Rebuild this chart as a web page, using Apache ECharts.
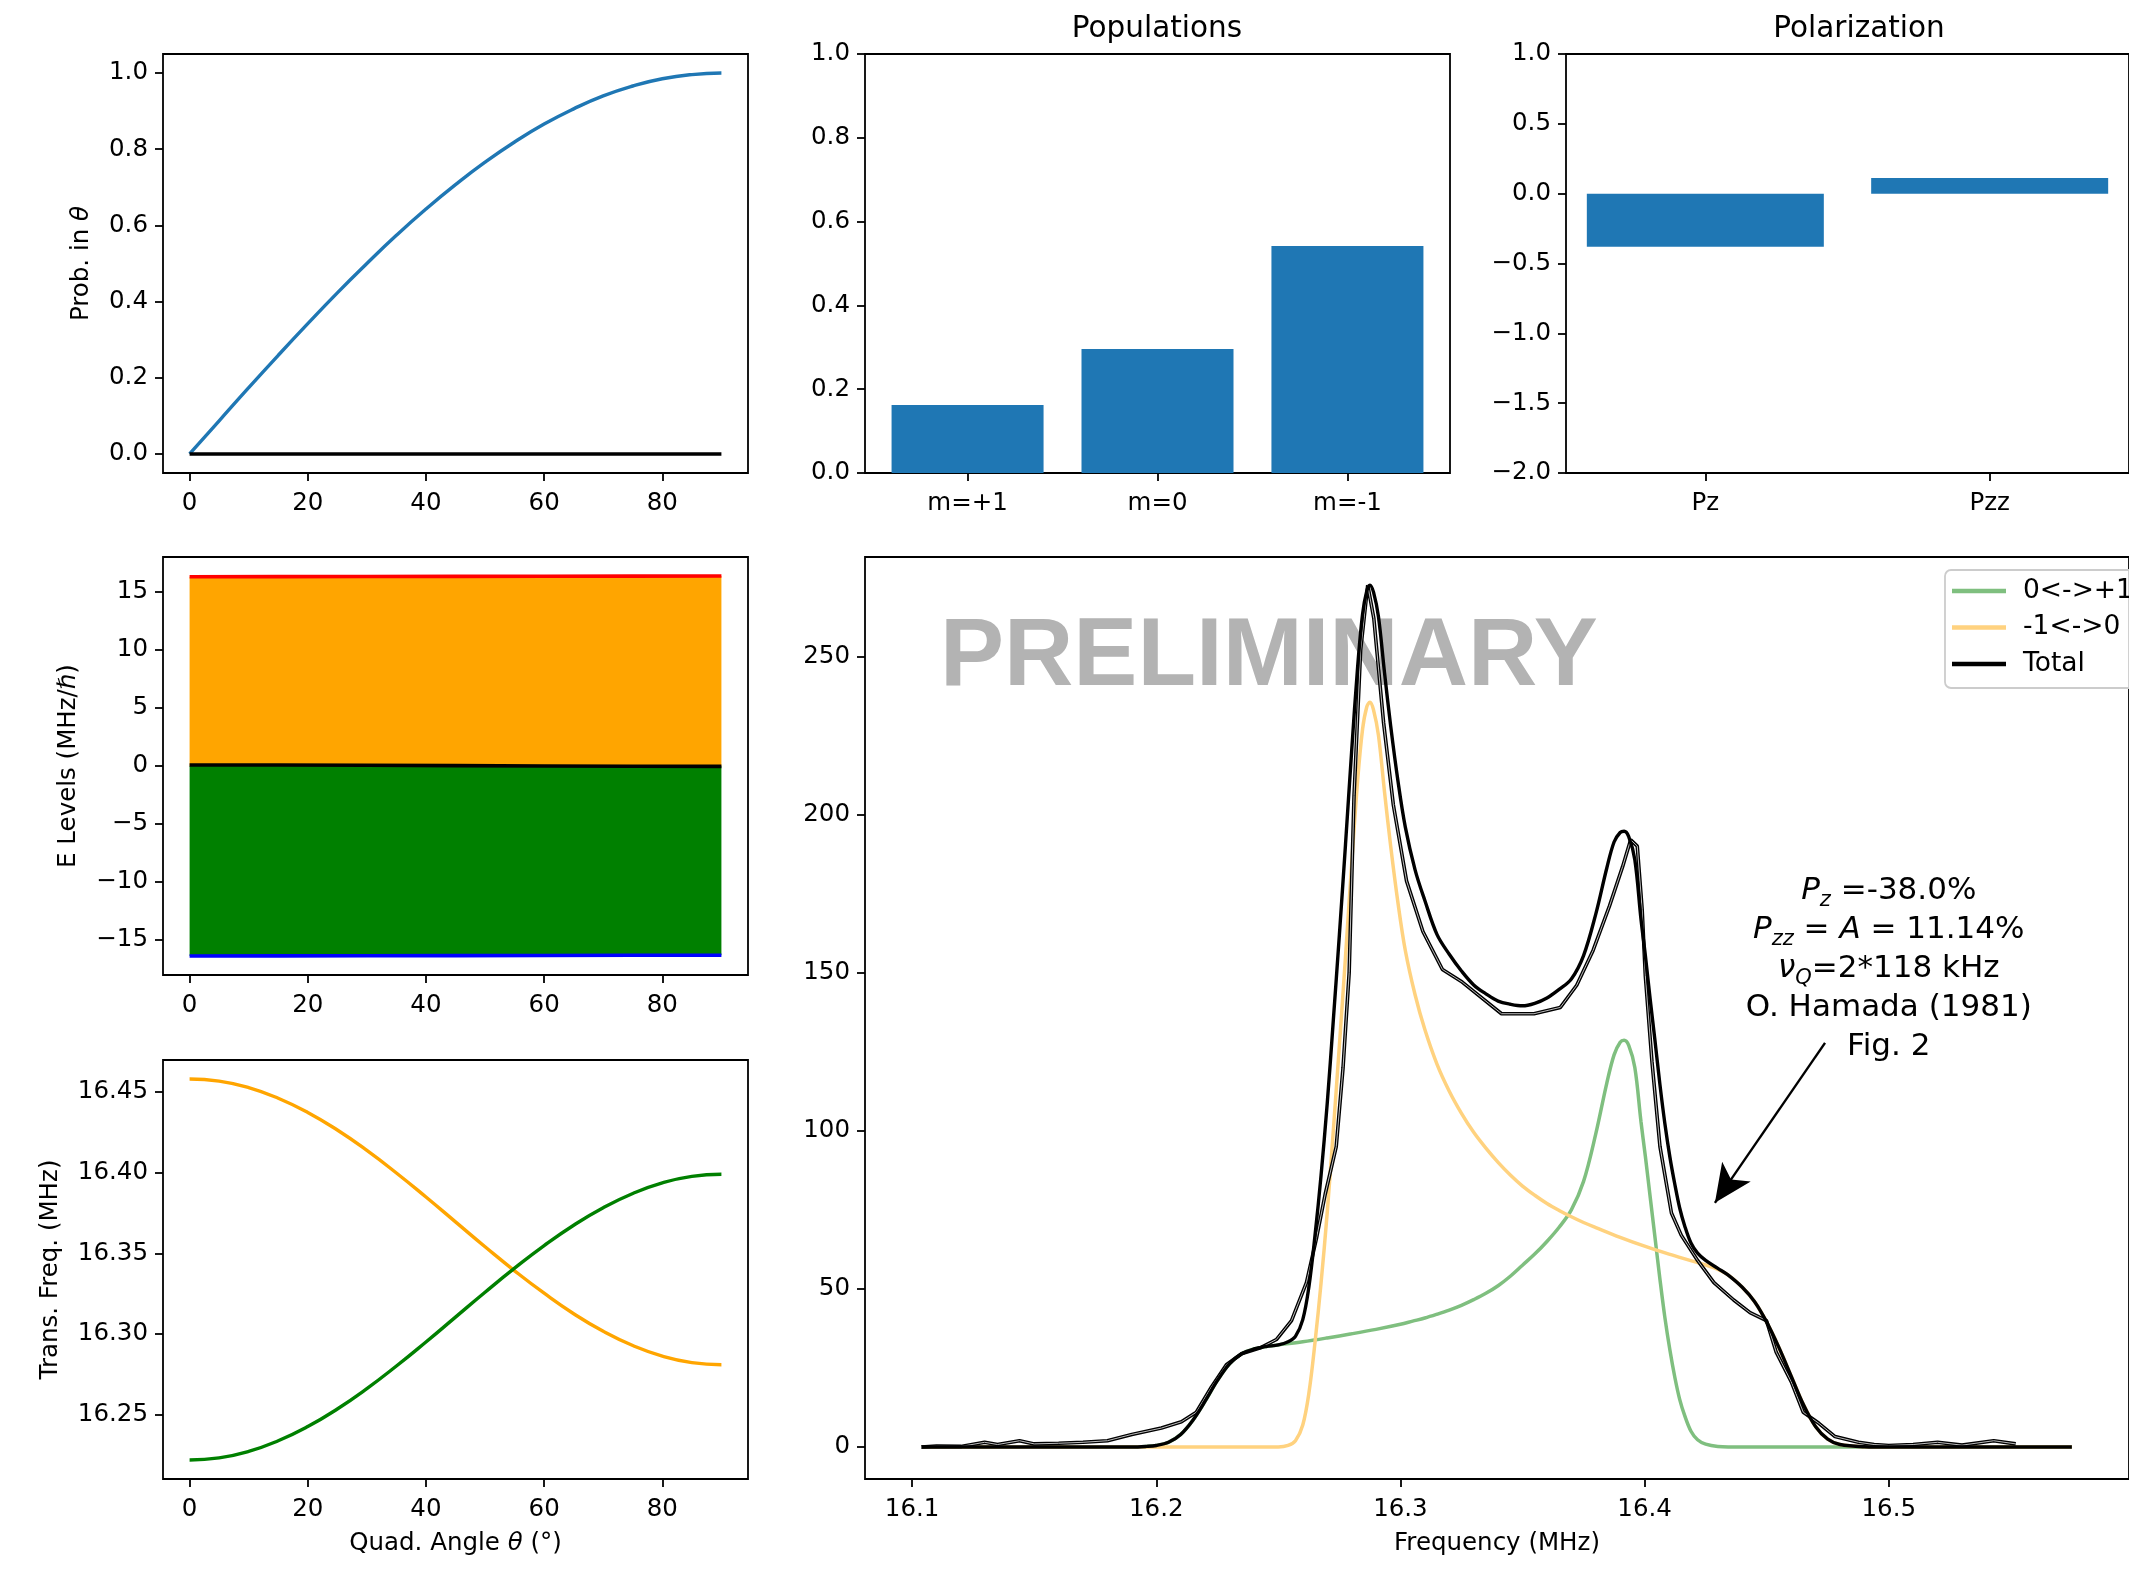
<!DOCTYPE html>
<html>
<head>
<meta charset="utf-8">
<script src="https://cdn.jsdelivr.net/npm/echarts@6/dist/echarts.min.js"></script>
<style>
  html, body { margin: 0; padding: 0; background: #fff; }
  #chart { width: 2129px; height: 1569px; }
</style>
</head>
<body>
<div id="chart"></div>
<script>
// ---- data ----
const THETA = [0, 5, 10, 15, 20, 25, 30, 35, 40, 45, 50, 55, 60, 65, 70, 75, 80, 85, 90]
const PROB_THETA = [0, 0.087, 0.174, 0.259, 0.342, 0.423, 0.5, 0.574, 0.643, 0.707, 0.766, 0.819, 0.866, 0.906, 0.94, 0.966, 0.985, 0.996, 1.0]
const PROB_OTHER = [0, 0, 0, 0, 0, 0, 0, 0, 0, 0, 0, 0, 0, 0, 0, 0, 0, 0, 0]

const POP_CATS = ['m=+1', 'm=0', 'm=-1']
const POP_VALUES = [0.162, 0.296, 0.542]
const POL_CATS = ['Pz', 'Pzz']
const POL_VALUES = [-0.38, 0.1114]

const THETA_E = [0, 15, 30, 45, 60, 75, 90]
const E_PLUS = [16.301, 16.305, 16.315, 16.33, 16.345, 16.356, 16.36]
const E_ZERO = [0.079, 0.071, 0.049, 0.02, -0.01, -0.032, -0.039]
const E_MINUS = [-16.379, -16.375, -16.365, -16.35, -16.335, -16.324, -16.32]

const F_MINUS_ZERO = [16.458, 16.4567, 16.4527, 16.4461, 16.4373, 16.4264, 16.4138, 16.3998, 16.3849, 16.3695, 16.3541, 16.3392, 16.3253, 16.3126, 16.3017, 16.2929, 16.2863, 16.2823, 16.281]
const F_ZERO_PLUS = [16.222, 16.2233, 16.2273, 16.2339, 16.2427, 16.2536, 16.2662, 16.2802, 16.2951, 16.3105, 16.3259, 16.3408, 16.3548, 16.3674, 16.3783, 16.3871, 16.3937, 16.3977, 16.399]

const GREEN_FREQ = [16.104, 16.19, 16.196, 16.2, 16.205, 16.21, 16.215, 16.22, 16.225, 16.23, 16.235, 16.24, 16.245, 16.25, 16.26, 16.27, 16.28, 16.29, 16.3, 16.305, 16.31, 16.315, 16.32, 16.325, 16.33, 16.335, 16.34, 16.345, 16.35, 16.355, 16.36, 16.365, 16.37, 16.375, 16.38, 16.3845, 16.3875, 16.39, 16.3916, 16.3935, 16.396, 16.3985, 16.4003, 16.4023, 16.4043, 16.4063, 16.4083, 16.4104, 16.4124, 16.4144, 16.4164, 16.419, 16.4217, 16.425, 16.43, 16.44, 16.575]
const GREEN_VAL = [0, 0, 0.2, 0.5, 1.5, 4, 8.5, 14.5, 21, 26.3, 29.5, 31, 31.8, 32.3, 33.3, 34.5, 35.8, 37.2, 38.8, 39.8, 40.8, 42, 43.3, 44.8, 46.6, 48.6, 51, 54, 57.5, 61, 65, 69.5, 75, 84, 99, 115, 124, 128, 128.6, 127, 120, 103, 92, 79, 66, 53, 41, 30.5, 22, 15, 10, 5, 2.3, 0.9, 0.2, 0, 0]

const ORANGE_FREQ = [16.104, 16.25, 16.254, 16.257, 16.26, 16.2625, 16.265, 16.2675, 16.27, 16.2725, 16.275, 16.2775, 16.28, 16.2825, 16.2845, 16.2862, 16.2875, 16.289, 16.291, 16.2935, 16.296, 16.299, 16.302, 16.306, 16.31, 16.315, 16.32, 16.325, 16.33, 16.335, 16.34, 16.345, 16.35, 16.355, 16.36, 16.365, 16.37, 16.375, 16.38, 16.39, 16.4, 16.41, 16.42, 16.428, 16.434, 16.44, 16.445, 16.45, 16.455, 16.46, 16.465, 16.47, 16.475, 16.48, 16.49, 16.5, 16.575]
const ORANGE_VAL = [0, 0, 0.5, 2, 7, 17, 33, 52, 74, 100, 127, 155, 184, 211, 227, 234, 235.5, 233, 225, 207, 190, 172, 157, 143, 132, 121, 112.5, 105.5, 99.5, 94.5, 90, 86, 82.5, 79.6, 77, 74.8, 72.8, 71, 69.4, 66.3, 63.5, 61, 58.7, 56.8, 54.5, 50.5, 46, 39.5, 31.5, 22.5, 13.5, 6.5, 2.5, 0.8, 0.1, 0, 0]

const FIT_FREQ = [16.104, 16.15, 16.19, 16.196, 16.2, 16.205, 16.21, 16.215, 16.22, 16.225, 16.23, 16.235, 16.24, 16.245, 16.25, 16.254, 16.257, 16.26, 16.2625, 16.265, 16.2675, 16.27, 16.2725, 16.275, 16.2775, 16.28, 16.2825, 16.2845, 16.2862, 16.2875, 16.289, 16.291, 16.2935, 16.296, 16.299, 16.302, 16.306, 16.31, 16.315, 16.32, 16.325, 16.33, 16.335, 16.34, 16.345, 16.35, 16.355, 16.36, 16.365, 16.37, 16.375, 16.38, 16.3845, 16.3875, 16.39, 16.3916, 16.3935, 16.396, 16.3985, 16.4003, 16.4023, 16.4043, 16.4063, 16.4083, 16.4104, 16.4124, 16.4144, 16.4164, 16.419, 16.4217, 16.425, 16.43, 16.434, 16.44, 16.445, 16.45, 16.455, 16.46, 16.465, 16.47, 16.475, 16.48, 16.49, 16.5, 16.575]
const FIT_TOTAL = [0, 0, 0, 0.2, 0.5, 1.5, 4, 8.5, 14.5, 21, 26.3, 29.5, 31, 31.8, 32.3, 33.3, 35, 40.3, 50.6, 66.8, 86, 108.5, 134.8, 162, 190.5, 219.8, 247, 263.4, 270.6, 272.5, 270.2, 262.5, 244.7, 228, 210.5, 196, 182.5, 172.8, 162, 155.8, 150.5, 146.1, 143.3, 141, 140, 139.5, 140.3, 142, 144.7, 148, 155.4, 168.5, 183, 191.3, 194.3, 194.7, 193, 185.7, 167, 155.5, 141.5, 128.2, 114.5, 102.3, 91.5, 83, 75.5, 70, 64.5, 61.3, 59, 56.5, 54.5, 50.5, 46, 39.5, 31.5, 22.5, 13.5, 6.5, 2.5, 0.8, 0.1, 0, 0]

const DATA_FREQ = [16.1037, 16.11, 16.12, 16.1297, 16.135, 16.144, 16.15, 16.16, 16.17, 16.18, 16.19, 16.2021, 16.2103, 16.2164, 16.2226, 16.2287, 16.2349, 16.243, 16.2492, 16.2554, 16.2615, 16.2656, 16.2692, 16.2737, 16.2765, 16.279, 16.281, 16.2837, 16.2866, 16.2891, 16.2931, 16.2971, 16.3025, 16.3092, 16.3172, 16.3253, 16.3414, 16.3547, 16.3655, 16.3722, 16.3789, 16.3856, 16.391, 16.3943, 16.397, 16.399, 16.4003, 16.403, 16.4063, 16.411, 16.415, 16.4217, 16.4284, 16.4365, 16.4432, 16.4499, 16.4539, 16.4601, 16.465, 16.4714, 16.478, 16.4876, 16.494, 16.5, 16.51, 16.52, 16.53, 16.543, 16.552]
const DATA_VAL = [0, 0.3, 0.2, 1.5, 0.8, 2, 1, 1.2, 1.5, 2, 4, 6, 8, 11, 19, 26, 29.5, 31.5, 34, 40, 52, 66, 80, 95, 120, 150, 206, 252, 272.5, 262, 229, 203, 179, 163, 151, 147, 137, 137, 139, 146, 157, 171, 183.5, 192, 190, 170, 149, 122, 95, 74, 67, 59, 52, 46.5, 42.5, 40, 30, 20.6, 11, 7.5, 3.3, 1.5, 0.8, 0.5, 0.8, 1.5, 0.6, 2, 1]

// annotation anchors (data coords)
const NOTE_AT = [16.5, 151]
const ARROW_TAIL = [16.4739, 127.8]
const ARROW_HEAD = [16.4288, 77.2]

// ---- helpers ----
const FONT = 'DejaVu Sans'
const FS = 24.5
const pairs = (xs, ys) => xs.map((x, i) => [x, ys[i]])
const minus = s => String(s).replace('-', '\u2212')

function ax(extra) {
  const o = {
    type: 'value',
    axisLine: { show: false, onZero: false },
    axisTick: { show: true, length: 8, lineStyle: { color: '#000', width: 1.8 } },
    axisLabel: { color: '#000', fontSize: FS, fontFamily: FONT, margin: 15 },
    splitLine: { show: false },
    nameTextStyle: { color: '#000', fontSize: FS, fontFamily: FONT,
      rich: { i: { fontStyle: 'italic', fontSize: FS, fontFamily: FONT, color: '#000' } } },
  }
  for (const k in extra) {
    if (typeof extra[k] === 'object' && !Array.isArray(extra[k]) && o[k]) o[k] = Object.assign({}, o[k], extra[k])
    else o[k] = extra[k]
  }
  return o
}

function grid(left, top, width, height) {
  return { left, top, width, height, show: true, borderColor: '#000', borderWidth: 1.8, backgroundColor: 'transparent' }
}

function line(name, xi, data, color, width, extra) {
  return Object.assign({
    name, type: 'line', xAxisIndex: xi, yAxisIndex: xi, data,
    showSymbol: false, symbol: 'none', color,
    itemStyle: { color },
    lineStyle: { color, width },
    silent: true,
  }, extra || {})
}

const thetaTicks = [0, 20, 40, 60, 80]
const xLab = { margin: 18 }
const chart = echarts.init(document.getElementById('chart'))

chart.setOption({
  animation: false,
  backgroundColor: '#fff',
  grid: [
    grid(163, 54, 585, 419),   // prob
    grid(865, 54, 585, 419),   // populations
    grid(1566, 54, 586, 419),  // polarization
    grid(163, 557, 585, 418),  // E levels
    grid(163, 1060, 585, 419), // trans freq
    grid(865, 557, 1288, 922), // spectrum
  ],
  xAxis: [
    ax({ gridIndex: 0, min: -4.5, max: 94.5, axisTick: { customValues: thetaTicks }, axisLabel: { ...xLab, customValues: thetaTicks } }),
    ax({ gridIndex: 1, min: -0.54, max: 2.54, axisTick: { customValues: [0, 1, 2] },
      axisLabel: { ...xLab, customValues: [0, 1, 2], formatter: v => POP_CATS[Math.round(v)] } }),
    ax({ gridIndex: 2, min: -0.49, max: 1.49, axisTick: { customValues: [0, 1] },
      axisLabel: { ...xLab, customValues: [0, 1], formatter: v => POL_CATS[Math.round(v)] } }),
    ax({ gridIndex: 3, min: -4.5, max: 94.5, axisTick: { customValues: thetaTicks }, axisLabel: { ...xLab, customValues: thetaTicks } }),
    ax({ gridIndex: 4, min: -4.5, max: 94.5, axisTick: { customValues: thetaTicks }, axisLabel: { ...xLab, customValues: thetaTicks },
      name: 'Quad. Angle {i|θ} (°)', nameLocation: 'middle', nameGap: 52 }),
    ax({ gridIndex: 5, min: 16.0807, max: 16.5984, axisTick: { customValues: [16.1, 16.2, 16.3, 16.4, 16.5] },
      axisLabel: { ...xLab, customValues: [16.1, 16.2, 16.3, 16.4, 16.5], formatter: v => v.toFixed(1) },
      name: 'Frequency (MHz)', nameLocation: 'middle', nameGap: 52 }),
  ],
  yAxis: [
    ax({ gridIndex: 0, min: -0.05, max: 1.05, axisTick: { customValues: [0, 0.2, 0.4, 0.6, 0.8, 1] },
      axisLabel: { customValues: [0, 0.2, 0.4, 0.6, 0.8, 1], formatter: v => v.toFixed(1) },
      name: 'Prob. in {i|θ}', nameLocation: 'middle', nameGap: 69 }),
    ax({ gridIndex: 1, min: 0, max: 1, interval: 0.2, axisLabel: { formatter: v => v.toFixed(1) } }),
    ax({ gridIndex: 2, min: -2, max: 1, interval: 0.5, axisLabel: { formatter: v => minus(v.toFixed(1)) } }),
    ax({ gridIndex: 3, min: -18.02, max: 18.0, axisTick: { customValues: [-15, -10, -5, 0, 5, 10, 15] },
      axisLabel: { customValues: [-15, -10, -5, 0, 5, 10, 15], formatter: v => minus(Math.round(v)) },
      name: 'E Levels (MHz/{i|ℏ})', nameLocation: 'middle', nameGap: 82 }),
    ax({ gridIndex: 4, min: 16.2102, max: 16.4698, axisTick: { customValues: [16.25, 16.3, 16.35, 16.4, 16.45] },
      axisLabel: { customValues: [16.25, 16.3, 16.35, 16.4, 16.45], formatter: v => v.toFixed(2) },
      name: 'Trans. Freq. (MHz)', nameLocation: 'middle', nameGap: 100 }),
    ax({ gridIndex: 5, min: -10.1, max: 281.4, axisTick: { customValues: [0, 50, 100, 150, 200, 250] },
      axisLabel: { customValues: [0, 50, 100, 150, 200, 250], formatter: v => String(Math.round(v)) } }),
  ],
  legend: {
    data: ['0<->+1', '-1<->0', 'Total'],
    orient: 'vertical',
    left: 1945, top: 570,
    icon: 'rect',
    itemWidth: 54, itemHeight: 4.5,
    itemGap: 8.5,
    padding: [7, 40, 10, 7],
    selectedMode: false,
    backgroundColor: 'rgba(255,255,255,0.8)',
    borderColor: '#cccccc', borderWidth: 1.8, borderRadius: 6,
    textStyle: { color: '#000', fontSize: 26.5, fontFamily: FONT, lineHeight: 28, padding: [0, 0, 0, 12] },
  },
  graphic: [
    { type: 'text', x: 1157, y: 29, style: { text: 'Populations', font: `29.5px "${FONT}"`, fill: '#000', align: 'center', verticalAlign: 'middle' } },
    { type: 'text', x: 1859, y: 29, style: { text: 'Polarization', font: `29.5px "${FONT}"`, fill: '#000', align: 'center', verticalAlign: 'middle' } },
    { type: 'text', x: 940, y: 659, z: 1, style: { text: 'PRELIMINARY', font: 'bold 96px "Liberation Sans"', fill: '#b3b3b3', align: 'left', verticalAlign: 'middle' } },
  ],
  series: [
    // probability vs theta
    line('prob', 0, pairs(THETA, PROB_THETA), '#1f77b4', 3.4, { smooth: true }),
    line('prob0', 0, pairs(THETA, PROB_OTHER), '#000', 3.4),

    // populations / polarization bars
    { type: 'bar', xAxisIndex: 1, yAxisIndex: 1, data: pairs([0, 1, 2], POP_VALUES), barWidth: 152, itemStyle: { color: '#1f77b4' }, silent: true },
    { type: 'bar', xAxisIndex: 2, yAxisIndex: 2, data: pairs([0, 1], POL_VALUES), barWidth: 237, itemStyle: { color: '#1f77b4' }, silent: true },

    // energy levels: filled bands and level lines
    line('eplus_fill', 3, pairs(THETA_E, E_PLUS), '#ffa500', 0, { areaStyle: { color: '#ffa500', opacity: 1 } }),
    line('eminus_fill', 3, pairs(THETA_E, E_MINUS), '#008000', 0, { areaStyle: { color: '#008000', opacity: 1 } }),
    line('eplus', 3, pairs(THETA_E, E_PLUS), '#ff0000', 3.6),
    line('ezero', 3, pairs(THETA_E, E_ZERO), '#000', 3.6),
    line('eminus', 3, pairs(THETA_E, E_MINUS), '#0000ff', 3.6),

    // transition frequencies
    line('f_m0', 4, pairs(THETA, F_MINUS_ZERO), '#ffa500', 3.4, { smooth: true }),
    line('f_0p', 4, pairs(THETA, F_ZERO_PLUS), '#008000', 3.4, { smooth: true }),

    // spectrum
    line('0<->+1', 5, pairs(GREEN_FREQ, GREEN_VAL), '#7fbf7f', 3.5, { smooth: 0.35, z: 3 }),
    line('-1<->0', 5, pairs(ORANGE_FREQ, ORANGE_VAL), '#ffd27f', 3.5, { smooth: 0.35, z: 3 }),
    line('data', 5, pairs(DATA_FREQ, DATA_VAL), '#000', 3.6, { z: 4 }),
    line('data_core', 5, pairs(DATA_FREQ, DATA_VAL), '#bdbdbd', 1.0, { z: 4 }),
    line('Total', 5, pairs(FIT_FREQ, FIT_TOTAL), '#000', 3.4, {
      smooth: 0.35, z: 5,
      markLine: {
        silent: true, animation: false,
        symbol: ['none', 'arrow'], symbolSize: [26, 38],
        lineStyle: { color: '#000', width: 2.4, type: 'solid' },
        label: { show: false },
        data: [[{ coord: ARROW_TAIL }, { coord: ARROW_HEAD }]],
      },
      markPoint: {
        silent: true, animation: false,
        symbol: 'circle', symbolSize: 0,
        data: [{ coord: NOTE_AT }],
        label: {
          show: true, position: 'inside', align: 'center', verticalAlign: 'middle',
          color: '#000', fontFamily: FONT, fontSize: 31, lineHeight: 39,
          formatter: '{i|P}{s|z}{t| =-38.0%}\n{i|P}{s|zz}{t| = }{i|A}{t| = 11.14%}\n{i|ν}{s|Q}{t|=2*118 kHz}\n{t|O. Hamada (1981)}\n{t|Fig. 2}',
          rich: {
            t: { fontFamily: FONT, fontSize: 31, lineHeight: 39, color: '#000' },
            i: { fontFamily: FONT, fontSize: 31, lineHeight: 39, fontStyle: 'italic', color: '#000' },
            s: { fontFamily: FONT, fontSize: 21, lineHeight: 20, fontStyle: 'italic', verticalAlign: 'bottom', color: '#000' },
          },
        },
      },
    }),
  ],
})
</script>
</body>
</html>
